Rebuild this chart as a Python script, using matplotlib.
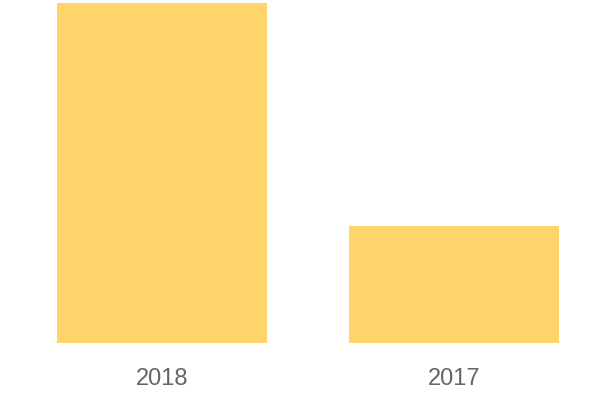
import matplotlib
matplotlib.use('Agg')
import matplotlib.pyplot as plt

# values (relative heights)
years = ['2018', '2017']
values = [100, 34.4]

bar_color = '#FFD46B'
text_color = '#666666'

fig = plt.figure(figsize=(6, 4), dpi=100)
ax = fig.add_axes([16 / 600, 57 / 400, 584 / 600, 340 / 400])

ax.bar(range(len(years)), values, width=0.72, color=bar_color)
ax.set_xlim(-0.5, 1.5)
ax.set_ylim(0, 100)

ax.set_xticks(range(len(years)))
ax.set_xticklabels(years, family='Liberation Sans', fontsize=17, color=text_color)
ax.tick_params(axis='x', length=0, pad=18)
ax.set_yticks([])
for side in ax.spines.values():
    side.set_visible(False)

fig.savefig('out.png', dpi=100)
